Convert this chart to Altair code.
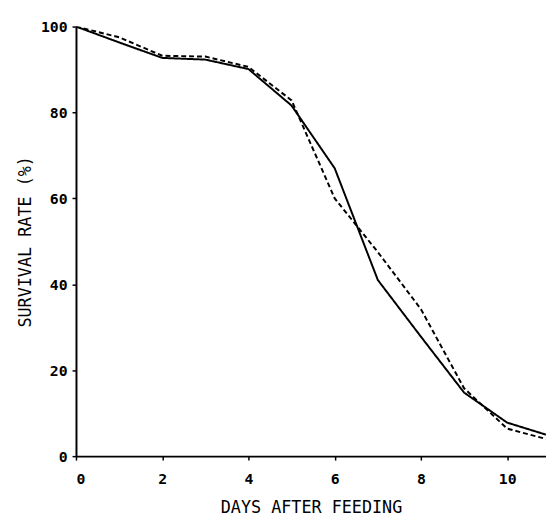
import altair as alt
import pandas as pd

days = [0, 1, 2, 3, 4, 5, 6, 7, 8, 9, 10, 10.9]
solid = [100, 96.3, 92.7, 92.3, 90.1, 81.6, 67.0, 41.0, 27.8, 14.8, 7.8, 5.0]
dashed = [100, 97.5, 93.2, 93.0, 90.6, 82.8, 60.0, 47.5, 34.2, 15.8, 6.4, 4.0]
x_ticks = [0, 2, 4, 6, 8, 10]
y_ticks = [0, 20, 40, 60, 80, 100]

df = pd.DataFrame({
    "day": days + days,
    "rate": solid + dashed,
    "series": ["solid"] * len(days) + ["dashed"] * len(days),
})

FONT = "DejaVu Sans Mono"

chart = alt.Chart(df).mark_line(color="black", strokeWidth=2, clip=True).encode(
    x=alt.X("day:Q", scale=alt.Scale(domain=[0, 10.9], nice=False, zero=False),
            axis=alt.Axis(values=x_ticks, title="DAYS AFTER FEEDING", tickSize=4,
                          labelPadding=12, titlePadding=13)),
    y=alt.Y("rate:Q", scale=alt.Scale(domain=[0, 100], nice=False),
            axis=alt.Axis(values=y_ticks, title="SURVIVAL RATE (%)", tickSize=4,
                          labelPadding=5, titlePadding=6)),
    detail="series:N",
    strokeDash=alt.StrokeDash("series:N",
                              scale=alt.Scale(domain=["solid", "dashed"], range=[[1, 0], [5, 3]]),
                              legend=None),
).properties(
    width=477, height=436,
    autosize=alt.AutoSizeParams(type="none"),
    padding={"left": 69, "top": 15, "right": 0, "bottom": 61},
).configure_view(stroke=None).configure_axis(
    grid=False,
    labelFont=FONT, titleFont=FONT,
    labelFontSize=15, titleFontSize=17,
    labelFontWeight="bold", titleFontWeight="normal",
    labelColor="black", titleColor="black",
    domainColor="black", domainWidth=2,
    tickColor="black", tickWidth=1.5,
)

chart.save("out.html", embed_options={"renderer": "svg", "actions": False})
